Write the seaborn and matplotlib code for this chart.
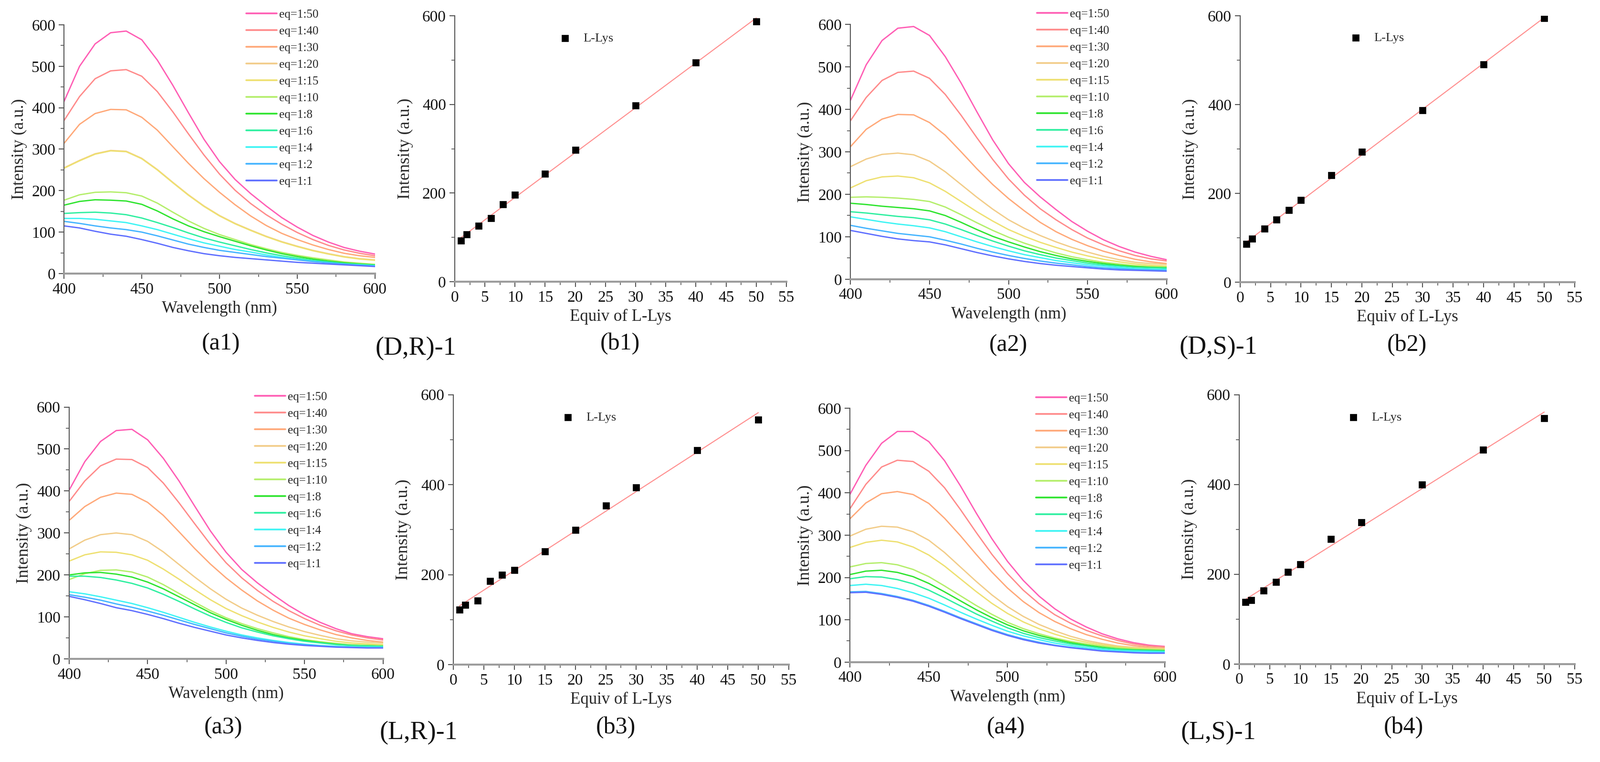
import numpy as np
import pandas as pd
import matplotlib
matplotlib.use("Agg")
import matplotlib.pyplot as plt
from matplotlib.ticker import MultipleLocator
import seaborn as sns

# ---------------- data ----------------
wavelength = list(range(400, 601, 10))
eq_labels = ["eq=1:50", "eq=1:40", "eq=1:30", "eq=1:20", "eq=1:15", "eq=1:10",
             "eq=1:8", "eq=1:6", "eq=1:4", "eq=1:2", "eq=1:1"]

a1_spectra = {
    "eq=1:50": [415, 500, 554, 581, 585, 564, 515, 454, 388, 324, 270, 227, 193, 163, 135, 112, 92, 76, 63, 54, 47],
    "eq=1:40": [369, 427, 470, 489, 492, 476, 439, 390, 337, 286, 240, 201, 169, 142, 119, 99, 82, 68, 57, 49, 43],
    "eq=1:30": [314, 360, 386, 396, 395, 377, 346, 306, 266, 229, 196, 166, 139, 116, 97, 82, 69, 58, 49, 43, 39],
    "eq=1:20": [255, 273, 289, 297, 295, 278, 251, 220, 190, 163, 140, 121, 105, 90, 77, 66, 56, 48, 41, 36, 33],
    "eq=1:15": [254, 272, 288, 296, 294, 277, 250, 219, 189, 162, 139, 120, 104, 89, 76, 65, 55, 47, 40, 35, 32],
    "eq=1:10": [177, 190, 196, 197, 195, 187, 170, 148, 127, 109, 94, 82, 70, 60, 51, 44, 38, 33, 28, 25, 22],
    "eq=1:8":  [165, 174, 178, 177, 175, 167, 151, 132, 115, 101, 89, 78, 67, 57, 48, 41, 35, 30, 26, 23, 21],
    "eq=1:6":  [145, 147, 148, 146, 142, 134, 123, 111, 98, 86, 76, 67, 58, 50, 43, 37, 32, 28, 24, 22, 20],
    "eq=1:4":  [133, 133, 131, 127, 123, 115, 106, 95, 84, 74, 66, 58, 52, 45, 39, 34, 30, 26, 23, 21, 19],
    "eq=1:2":  [126, 121, 115, 110, 106, 100, 91, 81, 71, 63, 56, 51, 46, 41, 37, 33, 29, 26, 23, 20, 18],
    "eq=1:1":  [115, 110, 102, 95, 90, 82, 73, 63, 55, 48, 43, 39, 36, 33, 30, 27, 25, 23, 21, 19, 17],
}
a2_spectra = {
    "eq=1:50": [421, 505, 562, 591, 595, 574, 524, 462, 394, 328, 272, 228, 194, 164, 136, 113, 93, 77, 64, 54, 46],
    "eq=1:40": [373, 428, 468, 487, 490, 473, 435, 386, 333, 282, 236, 198, 166, 140, 117, 97, 81, 67, 56, 48, 43],
    "eq=1:30": [312, 353, 377, 388, 387, 369, 339, 300, 260, 223, 190, 161, 134, 112, 94, 79, 66, 56, 47, 41, 37],
    "eq=1:20": [265, 283, 294, 297, 293, 278, 253, 223, 193, 165, 140, 120, 103, 88, 75, 64, 54, 46, 40, 37, 35],
    "eq=1:15": [215, 232, 241, 243, 239, 227, 207, 183, 159, 137, 117, 101, 87, 75, 64, 55, 47, 41, 36, 33, 31],
    "eq=1:10": [193, 194, 193, 191, 188, 183, 170, 152, 133, 115, 99, 85, 73, 62, 53, 46, 40, 36, 32, 30, 29],
    "eq=1:8":  [179, 176, 172, 169, 166, 161, 150, 134, 117, 101, 88, 76, 65, 56, 48, 42, 37, 33, 30, 28, 27],
    "eq=1:6":  [159, 156, 152, 148, 145, 140, 130, 117, 103, 90, 78, 67, 58, 50, 44, 38, 34, 31, 28, 27, 26],
    "eq=1:4":  [147, 141, 135, 130, 126, 121, 112, 100, 88, 77, 67, 58, 51, 44, 39, 34, 31, 28, 25, 24, 23],
    "eq=1:2":  [127, 120, 114, 108, 104, 100, 92, 83, 73, 64, 56, 49, 43, 38, 34, 30, 27, 25, 23, 22, 21],
    "eq=1:1":  [115, 108, 101, 95, 91, 88, 81, 72, 63, 55, 48, 42, 37, 33, 30, 27, 24, 22, 21, 20, 19],
}
a3_spectra = {
    "eq=1:50": [402, 470, 518, 544, 547, 522, 478, 424, 364, 305, 254, 213, 181, 153, 127, 105, 87, 72, 60, 53, 48],
    "eq=1:40": [375, 424, 460, 476, 475, 456, 419, 372, 322, 273, 229, 193, 163, 137, 115, 96, 80, 67, 57, 50, 45],
    "eq=1:30": [330, 363, 385, 395, 392, 373, 342, 303, 263, 226, 193, 164, 138, 116, 97, 82, 69, 58, 50, 44, 40],
    "eq=1:20": [262, 283, 296, 300, 296, 280, 255, 225, 195, 167, 142, 121, 104, 89, 76, 65, 56, 48, 43, 40, 38],
    "eq=1:15": [233, 248, 255, 254, 248, 235, 214, 190, 165, 141, 120, 103, 88, 75, 64, 55, 48, 42, 38, 36, 34],
    "eq=1:10": [189, 203, 211, 212, 207, 195, 177, 156, 135, 115, 98, 84, 72, 62, 53, 46, 41, 37, 34, 33, 32],
    "eq=1:8":  [200, 205, 206, 202, 195, 183, 167, 148, 129, 110, 94, 80, 68, 58, 50, 44, 39, 35, 32, 31, 30],
    "eq=1:6":  [197, 197, 194, 188, 180, 169, 154, 137, 119, 102, 87, 74, 64, 55, 48, 42, 38, 34, 32, 31, 30],
    "eq=1:4":  [160, 155, 148, 140, 132, 122, 111, 99, 87, 76, 66, 57, 50, 44, 39, 35, 32, 30, 29, 28, 28],
    "eq=1:2":  [153, 147, 140, 131, 123, 114, 104, 93, 82, 72, 62, 54, 47, 42, 37, 34, 31, 29, 28, 27, 27],
    "eq=1:1":  [149, 141, 132, 122, 115, 106, 96, 85, 75, 66, 57, 50, 44, 39, 35, 32, 30, 28, 27, 26, 26],
}
a4_spectra = {
    "eq=1:50": [397, 465, 517, 545, 545, 521, 476, 417, 353, 292, 238, 193, 156, 126, 102, 83, 67, 55, 46, 40, 37],
    "eq=1:40": [363, 420, 461, 477, 474, 451, 412, 361, 307, 255, 209, 170, 138, 112, 92, 75, 62, 51, 43, 38, 36],
    "eq=1:30": [339, 376, 398, 403, 396, 375, 340, 299, 255, 213, 175, 143, 117, 96, 79, 65, 54, 45, 39, 35, 33],
    "eq=1:20": [298, 314, 321, 319, 308, 288, 259, 225, 191, 159, 131, 108, 89, 74, 61, 51, 44, 38, 35, 33, 32],
    "eq=1:15": [271, 283, 288, 284, 272, 253, 227, 197, 167, 139, 115, 95, 79, 66, 55, 47, 41, 36, 33, 31, 30],
    "eq=1:10": [225, 233, 235, 230, 219, 202, 180, 157, 134, 113, 94, 79, 67, 57, 49, 43, 38, 34, 31, 30, 29],
    "eq=1:8":  [207, 215, 217, 212, 202, 186, 166, 145, 124, 105, 88, 74, 63, 54, 46, 40, 35, 31, 29, 28, 27],
    "eq=1:6":  [197, 202, 201, 195, 185, 170, 152, 133, 114, 97, 81, 68, 58, 50, 43, 38, 33, 30, 28, 27, 26],
    "eq=1:4":  [181, 184, 181, 174, 164, 151, 135, 118, 102, 87, 73, 62, 53, 45, 39, 34, 30, 27, 26, 25, 24],
    "eq=1:2":  [166, 167, 162, 155, 146, 134, 120, 105, 91, 77, 65, 55, 47, 40, 35, 31, 27, 25, 23, 22, 22],
    "eq=1:1":  [164, 165, 160, 153, 144, 132, 118, 103, 89, 75, 63, 53, 45, 39, 34, 30, 26, 24, 22, 21, 21],
}

b1_equiv = [1, 2, 4, 6, 8, 10, 15, 20, 30, 40, 50]
b1_intensity = [93, 107, 126, 143, 175, 196, 244, 297, 398, 495, 587]
b2_equiv = [1, 2, 4, 6, 8, 10, 15, 20, 30, 40, 50]
b2_intensity = [86, 98, 120, 141, 162, 185, 241, 294, 387, 490, 595]
b3_equiv = [1, 2, 4, 6, 8, 10, 15, 20, 25, 30, 40, 50]
b3_intensity = [122, 133, 142, 186, 200, 210, 251, 299, 353, 394, 476, 544]
b4_equiv = [1, 2, 4, 6, 8, 10, 15, 20, 30, 40, 50]
b4_intensity = [138, 142, 164, 183, 205, 222, 278, 316, 400, 477, 547]

palette = {
    "eq=1:50": "#FF5DB4", "eq=1:40": "#FF8A8A", "eq=1:30": "#FFA878",
    "eq=1:20": "#F2CC88", "eq=1:15": "#EEE070", "eq=1:10": "#B4EE6A",
    "eq=1:8": "#2EE42E", "eq=1:6": "#2EEFA0", "eq=1:4": "#3EF4F4",
    "eq=1:2": "#44B4FF", "eq=1:1": "#5E6EFF",
}

# ---------------- style ----------------
sns.set_theme(style="ticks")
plt.rcParams["font.family"] = ["Liberation Serif", "DejaVu Serif"]
plt.rcParams["axes.facecolor"] = "white"

W, H = 3353, 1596
fig = plt.figure(figsize=(W / 100, H / 100), dpi=100)

TICK_FS = 24
XLABEL_FS = 25
YLABEL_FS = 26


def style_axes(ax):
    sns.despine(ax=ax)
    ax.spines["bottom"].set_color("#9c9c9c")
    ax.spines["bottom"].set_linewidth(3)
    ax.spines["left"].set_color("#555555")
    ax.spines["left"].set_linewidth(1.5)
    ax.tick_params(which="major", direction="out", length=8, width=1.5,
                   labelsize=TICK_FS, pad=5, color="#555555", labelcolor="#111111")
    ax.tick_params(which="minor", direction="out", length=5, width=1.2, color="#555555")
    ax.set_facecolor("white")


def spectra_panel(rect, data, leg_anchor):
    ax = fig.add_axes(rect)
    rows = []
    for lab in eq_labels:
        for w, v in zip(wavelength, data[lab]):
            rows.append((w, v, lab))
    df = pd.DataFrame(rows, columns=["Wavelength", "Intensity", "eq"])
    sns.lineplot(data=df, x="Wavelength", y="Intensity", hue="eq",
                 hue_order=eq_labels, palette=palette, linewidth=2.0,
                 estimator=None, ax=ax, legend=True)
    old = ax.get_legend()
    handles = list(old.legend_handles)
    labels = [t.get_text() for t in old.get_texts()]
    old.remove()
    leg = ax.legend(handles, labels, loc="upper left", bbox_to_anchor=leg_anchor,
                    bbox_transform=fig.transFigure, frameon=False, fontsize=18,
                    handlelength=2.55, handletextpad=0.2, labelspacing=0.5,
                    borderpad=0, borderaxespad=0)
    for h in leg.legend_handles:
        h.set_linewidth(2.6)
    ax.set_xlim(400, 600)
    ax.set_ylim(0, 600)
    ax.xaxis.set_major_locator(MultipleLocator(50))
    ax.xaxis.set_minor_locator(MultipleLocator(25))
    ax.yaxis.set_major_locator(MultipleLocator(100))
    ax.yaxis.set_minor_locator(MultipleLocator(50))
    style_axes(ax)
    ax.set_xlabel("Wavelength (nm)", fontsize=XLABEL_FS, labelpad=6)
    ax.set_ylabel("Intensity (a.u.)", fontsize=YLABEL_FS)
    ax.yaxis.set_label_coords(-0.118, 0.5)
    return ax


def titration_panel(rect, xs, ys, leg_anchor):
    ax = fig.add_axes(rect)
    sns.regplot(x=np.array(xs, dtype=float), y=np.array(ys, dtype=float), ci=None,
                scatter=False, color="#FF8C8C", line_kws=dict(linewidth=1.5), ax=ax)
    sns.scatterplot(x=xs, y=ys, marker="s", s=95, color="black", edgecolor="black",
                    linewidth=0.5, ax=ax, label="L-Lys", zorder=3, legend=False)
    ax.legend(loc="center left", bbox_to_anchor=leg_anchor, bbox_transform=fig.transFigure,
              frameon=False, fontsize=19, handlelength=1.0, handletextpad=0.95,
              borderpad=0, borderaxespad=0)
    ax.set_xlim(0, 55)
    ax.set_ylim(0, 600)
    ax.xaxis.set_major_locator(MultipleLocator(5))
    ax.xaxis.set_minor_locator(MultipleLocator(2.5))
    ax.yaxis.set_major_locator(MultipleLocator(200))
    ax.yaxis.set_minor_locator(MultipleLocator(100))
    style_axes(ax)
    ax.set_xlabel("Equiv of L-Lys", fontsize=XLABEL_FS, labelpad=6)
    ax.set_ylabel("Intensity (a.u.)", fontsize=YLABEL_FS)
    ax.yaxis.set_label_coords(-0.125, 0.5)
    return ax


spectra_panel([0.0400, 0.6410, 0.1944, 0.3264], a1_spectra, (0.1539, 0.9880))
titration_panel([0.2842, 0.6303, 0.2073, 0.3490], b1_equiv, b1_intensity, (0.3492, 0.9499))
spectra_panel([0.5315, 0.6335, 0.1977, 0.3345], a2_spectra, (0.6481, 0.9886))
titration_panel([0.7751, 0.6297, 0.2091, 0.3496], b2_equiv, b2_intensity, (0.8434, 0.9502))
spectra_panel([0.0432, 0.1353, 0.1962, 0.3305], a3_spectra, (0.1593, 0.4861))
titration_panel([0.2833, 0.1278, 0.2097, 0.3543], b3_equiv, b3_intensity, (0.3510, 0.4524))
spectra_panel([0.5313, 0.1311, 0.1968, 0.3332], a4_spectra, (0.6475, 0.4842))
titration_panel([0.7745, 0.1286, 0.2097, 0.3535], b4_equiv, b4_intensity, (0.8419, 0.4524))

panel_labels = [
    ("(a1)", 0.1381, 0.5489, 36), ("(D,R)-1", 0.2598, 0.5426, 39), ("(b1)", 0.3874, 0.5489, 36),
    ("(a2)", 0.6302, 0.5470, 36), ("(D,S)-1", 0.7614, 0.5439, 39), ("(b2)", 0.8792, 0.5470, 36),
    ("(a3)", 0.1396, 0.0451, 36), ("(L,R)-1", 0.2616, 0.0382, 39), ("(b3)", 0.3850, 0.0451, 36),
    ("(a4)", 0.6287, 0.0451, 36), ("(L,S)-1", 0.7614, 0.0382, 39), ("(b4)", 0.8774, 0.0451, 36),
]
for txt, x, y, fs in panel_labels:
    fig.text(x, y, txt, ha="center", va="center", fontsize=fs, color="#111111")

fig.savefig("out.png", dpi=100, facecolor="white")
